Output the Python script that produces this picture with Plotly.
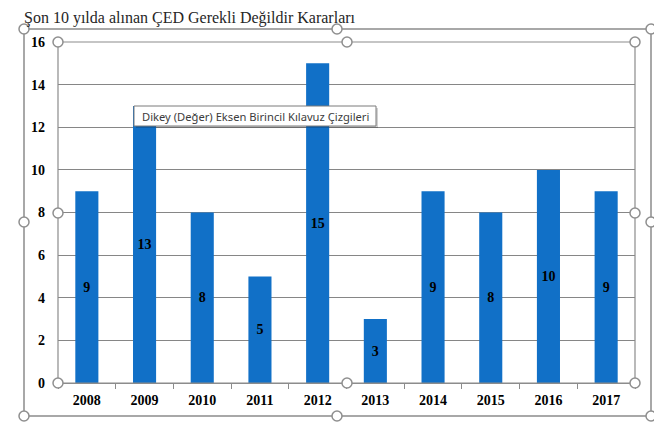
import plotly.graph_objects as go

years = ["2008", "2009", "2010", "2011", "2012", "2013", "2014", "2015", "2016", "2017"]
counts = [9, 13, 8, 5, 15, 3, 9, 8, 10, 9]
y_ticks = [0, 2, 4, 6, 8, 10, 12, 14, 16]
title_text = "Şon 10 yılda alınan ÇED Gerekli Değildir Kararları"
tooltip_text = "Dikey (Değer) Eksen Birincil Kılavuz Çizgileri"

# page body has an 8px default margin; the figure is sized to fit the window
OFF = 8
W, H = 662 - OFF, 439 - OFF
L, R, T, B = 58, 635, 42, 383  # plot area in screen pixels


def px(x):
    return (x - L) / (R - L)


def py(y):
    return (B - y) / (B - T)


fig = go.Figure(
    go.Bar(
        x=years,
        y=counts,
        marker=dict(color="#1170C7", line=dict(width=0)),
        text=[str(v) for v in counts],
        textposition="inside",
        insidetextanchor="middle",
        textangle=0,
        textfont=dict(family="Liberation Serif", size=14, color="#000000", weight="bold"),
        hoverinfo="skip",
    )
)

serif = "Liberation Serif"
grey = "#8C8C8C"

shapes = []
shapes.append(dict(type="rect", xref="paper", yref="paper",
                   x0=px(24), x1=px(651), y0=py(416), y1=py(29),
                   line=dict(color=grey, width=1.5), layer="below"))
shapes.append(dict(type="rect", xref="paper", yref="paper",
                   x0=0, x1=1, y0=0, y1=1,
                   line=dict(color=grey, width=1.2), layer="above"))
# tooltip shadow
shapes.append(dict(type="rect", xref="paper", yref="paper",
                   x0=px(136), x1=px(378), y0=py(128), y1=py(108),
                   line=dict(width=0), fillcolor="rgba(0,0,0,0.18)", layer="above"))
# tooltip box
shapes.append(dict(type="rect", xref="paper", yref="paper",
                   x0=px(134), x1=px(376), y0=py(126), y1=py(106),
                   line=dict(color="#7A7A7A", width=1), fillcolor="white", layer="above"))

handles = [(24, 29), (337, 29), (651, 29), (24, 222), (651, 222), (24, 416), (337, 416), (651, 416),
           (58, 42), (347, 42), (635, 42), (58, 213), (635, 213), (58, 383), (347, 383), (635, 383)]
for hx, hy in handles:
    shapes.append(dict(type="circle", xref="paper", yref="paper",
                       xsizemode="pixel", ysizemode="pixel",
                       xanchor=px(hx), yanchor=py(hy),
                       x0=-5, x1=5, y0=-5, y1=5,
                       line=dict(color="#8F8F8F", width=1.5), fillcolor="white", layer="above"))

annotations = [
    dict(text=title_text, xref="paper", yref="paper", x=px(22), y=py(18),
         xanchor="left", yanchor="middle", showarrow=False,
         font=dict(family=serif, size=16, color="#262626")),
    dict(text=tooltip_text, xref="paper", yref="paper", x=px(255), y=py(116),
         xanchor="center", yanchor="middle", showarrow=False,
         font=dict(family="Noto Sans", size=11.2, color="#3C3C3C")),
]

fig.update_layout(
    width=W, height=H,
    margin=dict(l=L - OFF, r=662 - R, t=T - OFF, b=439 - B, pad=0),
    paper_bgcolor="white", plot_bgcolor="white",
    bargap=0.6,
    showlegend=False,
    shapes=shapes,
    annotations=annotations,
    font=dict(family=serif),
)
fig.update_xaxes(
    type="category",
    showgrid=False,
    showline=True, linecolor=grey, linewidth=1.2,
    ticks="outside", tickson="boundaries", ticklen=5, tickcolor=grey, tickwidth=1,
    tickfont=dict(family=serif, size=14, color="#000000", weight="bold"),
    ticklabelstandoff=4,
)
fig.update_yaxes(
    range=[0, 16],
    tickvals=y_ticks,
    showgrid=True, gridcolor="#868686", gridwidth=1,
    zeroline=False,
    showline=False,
    ticks="",
    tickfont=dict(family=serif, size=14, color="#000000", weight="bold"),
    ticklabelstandoff=12,
)

fig.write_html("out.html")
